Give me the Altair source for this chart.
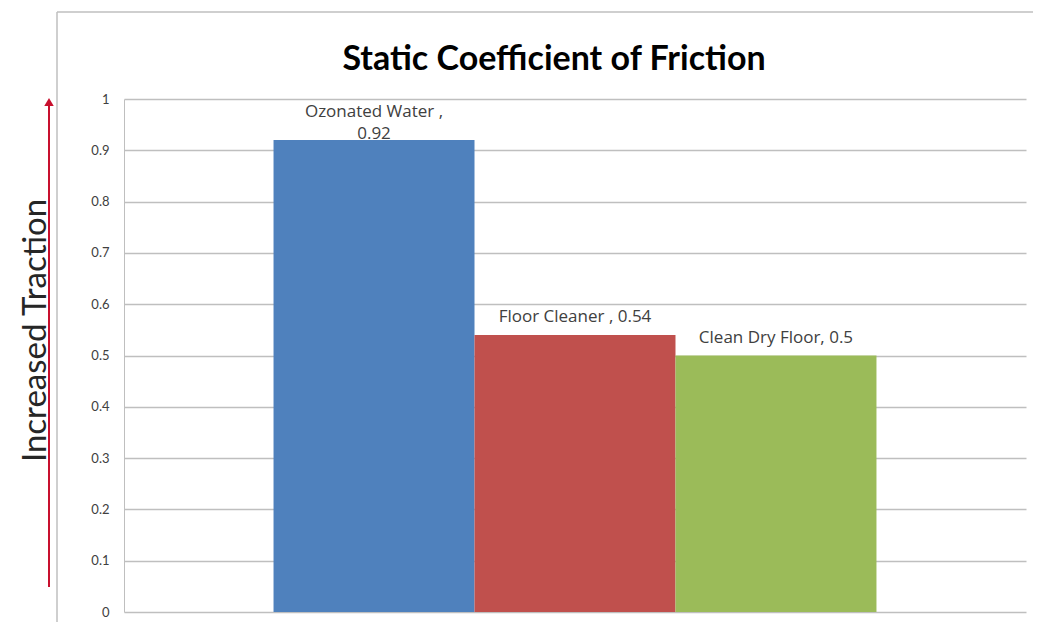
import altair as alt
import pandas as pd

series = ["Ozonated Water", "Floor Cleaner", "Clean Dry Floor"]
values = [0.92, 0.54, 0.5]
labels = ["Ozonated Water ,\n0.92", "Floor Cleaner , 0.54", "Clean Dry Floor, 0.5"]
colors = ["#4F81BD", "#C0504D", "#9BBB59"]
y_ticks = [0, 0.1, 0.2, 0.3, 0.4, 0.5, 0.6, 0.7, 0.8, 0.9, 1]
title_text = "Static Coefficient of Friction"

df = pd.DataFrame({"series": series, "value": values, "label": labels})

FONT = "Lato"
LFONT = "Open Sans"

x_enc = alt.X("series:N", sort=series,
              scale=alt.Scale(paddingInner=0, paddingOuter=0.744),
              axis=alt.Axis(labels=False, ticks=False, title=None, domain=False, grid=False))

bars = alt.Chart(df).mark_bar(stroke=None).encode(
    x=x_enc,
    y=alt.Y("value:Q", scale=alt.Scale(domain=[0, 1], nice=False),
            axis=alt.Axis(values=y_ticks, format="~g", title="Increased Traction",
                          titleX=-89, titleY=231, titleAngle=270,
                          titleAlign="center", titleBaseline="middle",
                          titleFontSize=33, titleFontWeight="normal",
                          titleColor="#262626", titleFont=FONT,
                          labelFont=FONT, labelFontSize=13, labelColor="#404040",
                          labelPadding=15, ticks=False, domain=True,
                          domainColor="#BFBFBF", grid=True, gridColor="#BFBFBF",
                          gridWidth=1.5)),
    color=alt.Color("series:N", sort=series,
                    scale=alt.Scale(domain=series, range=colors), legend=None),
)

text_top = alt.Chart(df).transform_filter(alt.datum.series == "Ozonated Water").mark_text(
    baseline="alphabetic", dy=-23, fontSize=17, font=LFONT, color="#404040", lineBreak="\n",
    lineHeight=22
).encode(x=alt.X("series:N", sort=series), y="value:Q", text="label:N")

text_rest = alt.Chart(df).transform_filter(alt.datum.series != "Ozonated Water").mark_text(
    baseline="alphabetic", dy=-13, fontSize=17, font=LFONT, color="#404040"
).encode(x=alt.X("series:N", sort=series), y="value:Q", text="label:N")

deco = pd.DataFrame({"k": [0]})
title_mark = alt.Chart(pd.DataFrame({"t": [title_text]})).mark_text(
    fontSize=34, font=FONT, fontWeight="bold", color="#000000",
    align="center", baseline="alphabetic"
).encode(x=alt.value(430), y=alt.value(-29), text="t:N")
arrow_line = alt.Chart(deco).mark_rule(color="#C8102E", strokeWidth=2).encode(
    x=alt.value(-75), y=alt.value(4), y2=alt.value(488))
arrow_head = alt.Chart(deco).mark_point(shape="triangle-up", filled=True, size=90,
                                          color="#C8102E", opacity=1).encode(
    x=alt.value(-75), y=alt.value(3))
frame_left = alt.Chart(deco).mark_rule(color="#BFBFBF", strokeWidth=1.5).encode(
    x=alt.value(-67), y=alt.value(-87), y2=alt.value(540))
frame_top = alt.Chart(deco).mark_rule(color="#BFBFBF", strokeWidth=1.5).encode(
    x=alt.value(-67), x2=alt.value(930), y=alt.value(-87))

chart = alt.layer(bars, text_top, text_rest, title_mark, arrow_line, arrow_head,
                  frame_left, frame_top).properties(
    width=902, height=513,
    autosize=alt.AutoSizeParams(type="none"),
    padding={"left": 116, "top": 91, "right": 7, "bottom": 10},
).configure_view(stroke=None)

chart.save("out.html", embed_options={"renderer": "svg", "actions": False})
